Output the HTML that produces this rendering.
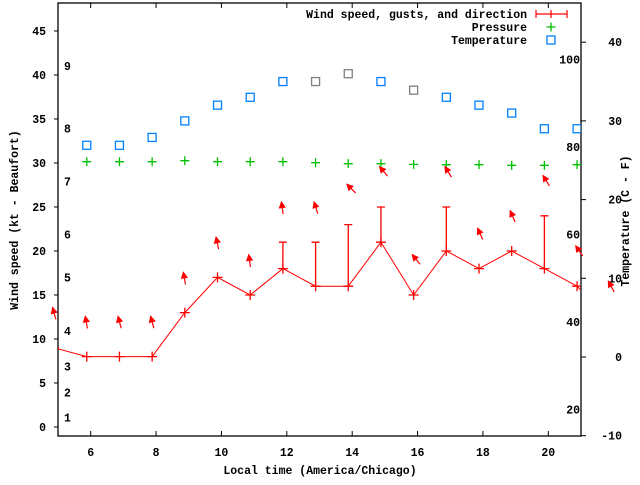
<!DOCTYPE html>
<html><head><meta charset="utf-8"><style>
html,body{margin:0;padding:0;background:#fff;}
svg text{font-family:"Liberation Mono",monospace;font-weight:bold;font-size:11.5px;fill:#000;}
</style></head><body>
<svg id="chart" width="640" height="480" viewBox="0 0 640 480" xmlns="http://www.w3.org/2000/svg">
<defs><clipPath id="plotclip"><rect x="58" y="3" width="523" height="433"/></clipPath></defs>
<g id="grid"></g>
</svg>
<script>
// ---- data ----
const times = [4.88,5.88,6.88,7.88,8.88,9.88,10.88,11.88,12.88,13.88,14.88,15.88,16.88,17.88,18.88,19.88,20.88,21.88];
const windSpeed = [9,8,8,8,13,17,15,18,16,16,21,15,20,18,20,18,16,12];
const windGust = [null,null,null,null,null,null,null,21,21,23,25,null,25,null,null,24,null,null];
const windDir = [165,170,165,165,170,168,172,172,163,135,140,141,148,155,157,148,145,152];
const pressTimes = [5.88,6.88,7.88,8.88,9.88,10.88,11.88,12.88,13.88,14.88,15.88,16.88,17.88,18.88,19.88,20.88];
const pressure = [1016.0,1016.0,1016.0,1016.3,1016.0,1016.0,1016.0,1015.7,1015.4,1015.4,1015.2,1015.1,1015.1,1014.9,1014.9,1015.1];
const tempTimes = [5.88,6.88,7.88,8.88,9.88,10.88,11.88,12.88,13.88,14.88,15.88,16.88,17.88,18.88,19.88,20.88];
const tempC = [26.9,26.9,27.9,30,32,33,35,35,36,35,33.9,33,32,31,29,29];
const tempGray = [false,false,false,false,false,false,false,true,true,false,true,false,false,false,false,false];
const xTicks = [6,8,10,12,14,16,18,20];
const yTicks = [0,5,10,15,20,25,30,35,40,45];
const y2Ticks = [-10,0,10,20,30,40];
const beaufortLabels = ['1','2','3','4','5','6','7','8','9'];
const beaufortKt = [1.1,3.9,6.9,10.9,17,21.9,27.9,33.9,41];
const fLabels = [20,40,60,80,100];

// ---- axes ----
const L=58,R=581,T=3,B=436;
const X = t => L + (t-5)*(R-L)/16;
const Y = v => 427 - v*8.8;
const Y2 = c => 357 - c*7.87;
const YP = p => 161.7 + (1016-p)*3.3;
const Y2F = f => Y2((f-32)*5/9);

const NS='http://www.w3.org/2000/svg';
const svg=document.getElementById('chart');
function mk(tag,attrs,parent){const e=document.createElementNS(NS,tag);for(const k in attrs)e.setAttribute(k,attrs[k]);(parent||svg).appendChild(e);return e;}

// border
const border=mk('rect',{x:L,y:T,width:R-L,height:B-T,fill:'none',stroke:'#000','stroke-width':1.3});



xTicks.forEach(t=>{
  const x=X(t);
  mk('line',{x1:x,y1:B,x2:x,y2:B-5,stroke:'#000'});
  mk('line',{x1:x,y1:T,x2:x,y2:T+5,stroke:'#000'});
  const tx=mk('text',{x:x,y:B+20,'text-anchor':'middle'});tx.textContent=t;
  
  
});
yTicks.forEach(v=>{
  const y=Y(v);
  mk('line',{x1:L-4,y1:y,x2:L,y2:y,stroke:'#000'});
  const tx=mk('text',{x:L-12,y:y+4,'text-anchor':'end'});tx.textContent=v;
  
  
});
y2Ticks.forEach(c=>{
  const y=Y2(c);
  mk('line',{x1:R,y1:y,x2:R+5,y2:y,stroke:'#000'});
  const tx=mk('text',{x:R+41,y:y+4,'text-anchor':'end'});tx.textContent=c;
  
  
});
beaufortLabels.forEach((b,i)=>{
  const tx=mk('text',{x:64,y:Y(beaufortKt[i])+4});tx.textContent=b;
  
  
});
fLabels.forEach(f=>{
  const tx=mk('text',{x:580,y:Y2F(f)+4,'text-anchor':'end'});tx.textContent=f;
  
  
});

// titles
let t1=mk('text',{x:320,y:474,'text-anchor':'middle'});t1.textContent='Local time (America/Chicago)';


let t2=mk('text',{x:0,y:0,'text-anchor':'middle',transform:'translate(18,220) rotate(-90)'});t2.textContent='Wind speed (kt - Beaufort)';


let t3=mk('text',{x:0,y:0,'text-anchor':'middle',transform:'translate(629,221) rotate(-90)'});t3.textContent='Temperature (C - F)';



// series
const plot=mk('g',{'clip-path':'url(#plotclip)'});


function plus(x,y,col,s,parent){mk('path',{d:`M${x-s},${y}H${x+s}M${x},${y-s}V${y+s}`,stroke:col,'stroke-width':1.3,fill:'none'},parent);}

const red='#ff0000';
let d='';
times.forEach((t,i)=>{d+=(i?'L':'M')+X(t)+','+Y(windSpeed[i]);});
const wl=mk('path',{d:d,stroke:red,fill:'none','stroke-width':1},plot);


times.forEach((t,i)=>{
  const x=X(t),y=Y(windSpeed[i]);
  plus(x,y,red,5,plot);
  if(windGust[i]!=null){
    const g=mk('path',{d:`M${x},${y}V${Y(windGust[i])}M${x-4},${Y(windGust[i])}H${x+4}`,stroke:red,'stroke-width':1.3,fill:'none'},plot);
    
    
  }
});
// arrows (unclipped)
times.forEach((t,i)=>{
  const top=Math.max(windSpeed[i],windGust[i]||0)+4.6;
  const hx=X(t)-1.5, hy=Y(top);
  const a=(windDir[i]+180)*Math.PI/180; // travel direction
  const ux=Math.sin(a), uy=-Math.cos(a);
  const len=12.5;
  const tx=hx-ux*len, ty=hy-uy*len;
  const g=mk('g',{});
  
  
  mk('line',{x1:tx,y1:ty,x2:hx,y2:hy,stroke:red,'stroke-width':1.2},g);
  const px=-uy,py=ux,hl=6,hw=3;
  mk('path',{d:`M${hx},${hy}L${hx-ux*hl+px*hw},${hy-uy*hl+py*hw}L${hx-ux*hl-px*hw},${hy-uy*hl-py*hw}Z`,fill:red,stroke:red,'stroke-width':0.8},g);
});
pressTimes.forEach((t,i)=>{
  const g=mk('g',{},plot);
  
  
  plus(X(t),YP(pressure[i]),'#00c000',4.5,g);
});
tempTimes.forEach((t,i)=>{
  const r=mk('rect',{x:X(t)-4,y:Y2(tempC[i])-4,width:8,height:8,fill:'none',stroke:tempGray[i]?'#808080':'#0080ff','stroke-width':1.3},plot);
  
  
});

// legend
const lg=mk('g',{});


const lt=['Wind speed, gusts, and direction','Pressure','Temperature'];
lt.forEach((s,i)=>{const e=mk('text',{x:527,y:18+i*13,'text-anchor':'end'},lg);e.textContent=s;
  
  });
mk('path',{d:'M536,14H567M536,10V18M567,10V18M551,10V18',stroke:red,'stroke-width':1.2,fill:'none'},lg);
plus(551,27,'#00c000',4.5,lg);
mk('rect',{x:547,y:36,width:8,height:8,fill:'none',stroke:'#0080ff','stroke-width':1.3},lg);
</script>
</body></html>
